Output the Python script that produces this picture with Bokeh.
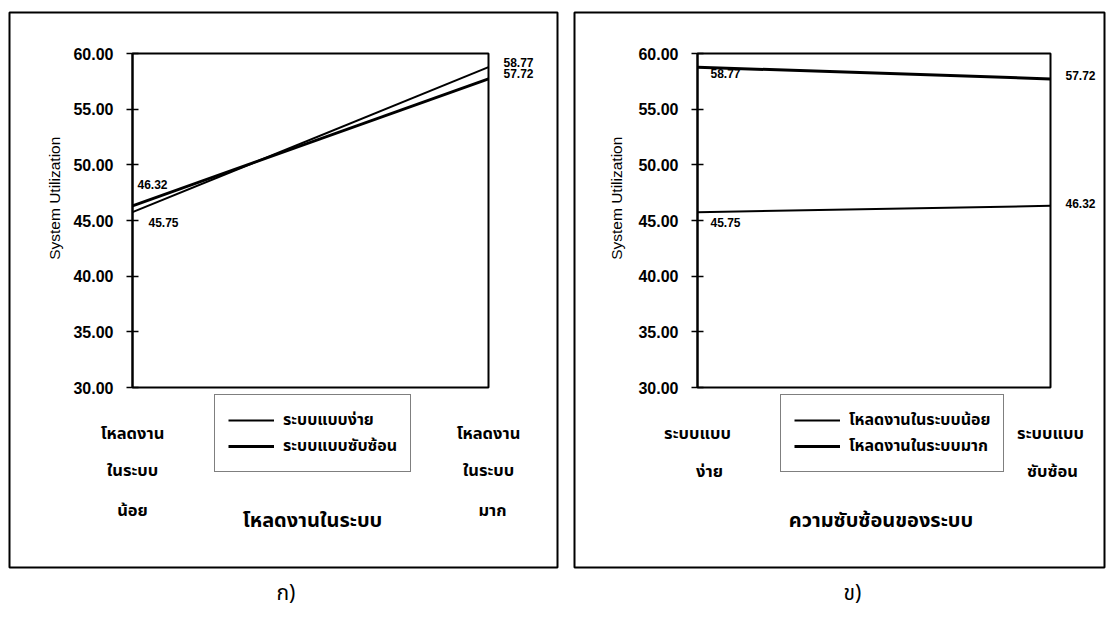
import math

from bokeh.embed import file_html
from bokeh.layouts import row
from bokeh.models import (FixedTicker, Label, Legend, LegendItem, LinearAxis,
                          NumeralTickFormatter, Range1d, Title)
from bokeh.plotting import figure
from bokeh.resources import INLINE

# ---- data ---------------------------------------------------------------
# workload levels (left chart x) and system complexity levels (right chart x)
load_levels = ["โหลดงานในระบบน้อย", "โหลดงานในระบบมาก"]
load_tick_lines = [["โหลดงาน", "ในระบบ", "น้อย"], ["โหลดงาน", "ในระบบ", "มาก"]]
complexity_levels = ["ระบบแบบง่าย", "ระบบแบบซับซ้อน"]
complexity_tick_lines = [["ระบบแบบ", "ง่าย"], ["ระบบแบบ", "ซับซ้อน"]]

# system utilization (%) : [low workload, high workload]
util_simple = [45.75, 58.77]
util_complex = [46.32, 57.72]

y_ticks = [30, 35, 40, 45, 50, 55, 60]
y_title = "System Utilization"
load_title = "โหลดงานในระบบ"
complexity_title = "ความซับซ้อนของระบบ"

# ---- styling / layout ---------------------------------------------------
THAI = "Noto Sans Thai, Noto Sans Thai UI, Loma, Garuda, Tlwg Typo, sans-serif"
NUM = "Liberation Sans, Arial, sans-serif"
H = 617
BOX_TOP, BOX_BOTTOM = 12, 567     # outer frame rows (shared by both panels)
PLOT_TOP, PLOT_BOTTOM = 53, 387   # pixel rows of y = 60 and y = 30


def make_panel(width, box_lr, plot_lr, n, series, names, widths,
               tick_lines, tick_rows, tick_dx, title, title_dx, value_offsets,
               legend_loc, caption, caption_left, ytitle_dx):
    bl, br = box_lr                # outer frame, canvas pixels
    pl, pr = plot_lr               # left / right edge of the plotting box
    ux = (pr - pl) / (n - 1)
    uy = (PLOT_BOTTOM - PLOT_TOP) / (y_ticks[-1] - y_ticks[0])
    x0 = -(pl - bl) / ux
    x1 = (n - 1) + (br - pr) / ux
    y0 = y_ticks[0] - (BOX_BOTTOM - PLOT_BOTTOM) / uy
    y1 = y_ticks[-1] + (PLOT_TOP - BOX_TOP) / uy

    p = figure(width=width, height=H, x_range=Range1d(x0, x1), y_range=Range1d(y0, y1),
               x_axis_location=None, y_axis_location=None,
               output_backend="svg", toolbar_location=None,
               min_border_left=bl, min_border_right=width - br,
               min_border_top=BOX_TOP, min_border_bottom=H - BOX_BOTTOM)
    p.grid.visible = False
    p.outline_line_color = "black"
    p.outline_line_width = 2
    p.background_fill_color = "white"
    p.border_fill_color = "white"

    ax = LinearAxis(fixed_location=0, bounds=(y_ticks[0], y_ticks[-1]))
    ax.ticker = FixedTicker(ticks=y_ticks)
    ax.formatter = NumeralTickFormatter(format="0.00")
    ax.major_label_text_font = NUM
    ax.major_label_text_font_size = "16px"
    ax.major_label_text_font_style = "bold"
    ax.major_label_text_color = "black"
    ax.major_label_standoff = 13
    ax.major_tick_in = 6
    ax.major_tick_out = 6
    ax.major_tick_line_width = 1.5
    ax.minor_tick_line_color = None
    ax.axis_line_width = 2
    p.add_layout(ax, "left")

    # plotting box
    p.quad(left=0, right=n - 1, bottom=y_ticks[0], top=y_ticks[-1],
           fill_color=None, line_color="black", line_width=2)

    xs = list(range(n))
    items = []
    for vals, name, w in zip(series, names, widths):
        r = p.line(x=xs, y=vals, line_color="black", line_width=w)
        items.append(LegendItem(label=name, renderers=[r]))

    # value labels at both ends of each line
    for vals, offs in zip(series, value_offsets):
        for xi, (v, (dx, dy)) in enumerate(zip(vals, offs)):
            p.add_layout(Label(x=xi, y=v, text=f"{v:.2f}", x_offset=dx, y_offset=dy,
                               text_align="left", text_baseline="middle",
                               text_font=NUM, text_font_size="12px",
                               text_font_style="bold", text_color="black"))

    # category captions under the plotting box
    for xi, (lines, dxs) in enumerate(zip(tick_lines, tick_dx)):
        for line, row_y, dx in zip(lines, tick_rows, dxs):
            p.add_layout(Label(x=xi, y=y_ticks[0], x_offset=dx,
                               y_offset=-(row_y - PLOT_BOTTOM),
                               text=line, text_align="center", text_baseline="middle",
                               text_font=THAI, text_font_size="16.5px",
                               text_font_style="bold", text_color="black"))

    # x title
    p.add_layout(Label(x=(n - 1) / 2, y=y_ticks[0], x_offset=title_dx,
                       y_offset=-(520 - PLOT_BOTTOM), text=title,
                       text_align="center", text_baseline="middle",
                       text_font=THAI, text_font_size="20px", text_font_style="bold",
                       text_color="black"))

    # y title, rotated
    p.add_layout(Label(x=0, y=47, x_offset=ytitle_dx, text=y_title, angle=math.pi / 2,
                       text_align="center", text_baseline="middle",
                       text_font=NUM, text_font_size="15.5px", text_color="black"))

    legend = Legend(items=items, location=legend_loc,
                    label_text_font=THAI, label_text_font_size="16px",
                    label_text_font_style="bold", label_text_color="black",
                    glyph_width=46, glyph_height=22, label_height=22, spacing=2,
                    padding=13, label_standoff=9, margin=0,
                    border_line_color="black", border_line_width=1.5,
                    background_fill_color="white", background_fill_alpha=1)
    p.add_layout(legend)

    # panel caption under the outer frame
    p.add_layout(Title(text=caption, align="left", offset=caption_left - bl, standoff=16,
                       text_font=THAI, text_font_size="21px",
                       text_font_style="normal", text_color="black"), "below")
    return p


# left: utilization vs workload, one line per complexity
left = make_panel(
    565, (9, 557), (132, 488), len(load_levels),
    [util_simple, util_complex], complexity_levels, [2, 3],
    load_tick_lines, [433, 470, 510], [[0, 0, 0], [0, 0, 4]], load_title, 2,
    [[(16, -10), (15, 5)], [(5, 21), (15, 5)]],
    (205, 95), "ก)", 276, -78)

# right: utilization vs complexity, one line per workload level
low_load = [util_simple[0], util_complex[0]]
high_load = [util_simple[1], util_complex[1]]
right = make_panel(
    542, (9, 539), (132, 485), len(complexity_levels),
    [low_load, high_load], load_levels, [2, 3],
    complexity_tick_lines, [433, 471], [[0, 12], [0, 2]], complexity_title, 7,
    [[(13, -10), (15, 2)], [(13, -6), (15, 3)]],
    (206, 95), "ข)", 278, -81)

layout = row(left, right)
open("out.html", "w").write(file_html(layout, INLINE))
